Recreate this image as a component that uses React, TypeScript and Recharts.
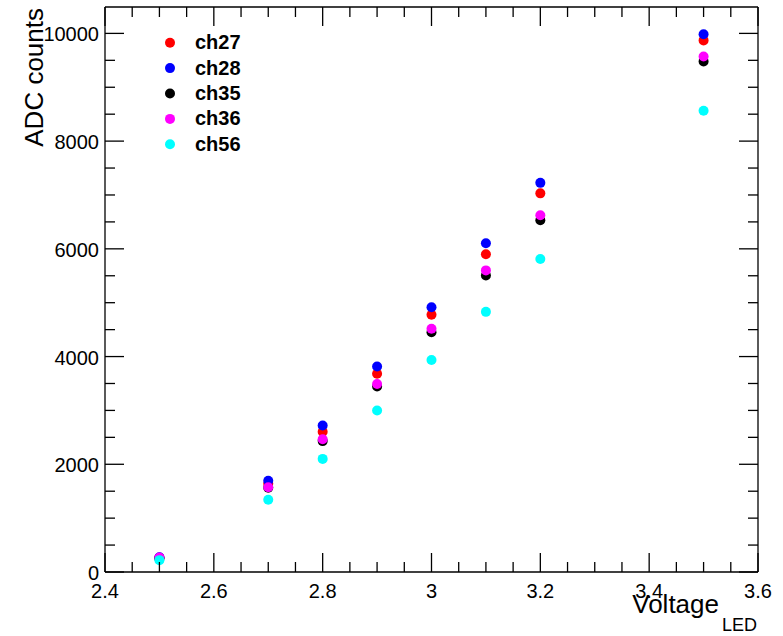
import { ScatterChart, Scatter, XAxis, YAxis, Legend } from 'recharts';

const FONT = '"Liberation Sans", Arial, Helvetica, sans-serif';

// LED voltage settings
const voltages = [2.5, 2.7, 2.8, 2.9, 3.0, 3.1, 3.2, 3.5];

// ADC counts per channel
const ch27 = [265, 1640, 2605, 3680, 4775, 5900, 7030, 9870];
const ch28 = [275, 1695, 2720, 3815, 4915, 6105, 7225, 9985];
const ch35 = [250, 1565, 2430, 3445, 4450, 5505, 6530, 9480];
const ch36 = [270, 1575, 2465, 3490, 4515, 5600, 6625, 9570];
const ch56 = [220, 1340, 2100, 3000, 3935, 4830, 5810, 8565];

const channelNames = ['ch27', 'ch28', 'ch35', 'ch36', 'ch56'];
const channelColors = ['#ff0000', '#0000ff', '#000000', '#ff00ff', '#00ffff'];
const channelValues = [ch27, ch28, ch35, ch36, ch56];

const xTicks = [
  2.4, 2.45, 2.5, 2.55, 2.6, 2.65, 2.7, 2.75, 2.8, 2.85, 2.9, 2.95, 3.0,
  3.05, 3.1, 3.15, 3.2, 3.25, 3.3, 3.35, 3.4, 3.45, 3.5, 3.55, 3.6,
];
const yTicks = [
  0, 500, 1000, 1500, 2000, 2500, 3000, 3500, 4000, 4500, 5000, 5500, 6000,
  6500, 7000, 7500, 8000, 8500, 9000, 9500, 10000,
];

const series = channelNames.map((name, i) => ({
  name,
  color: channelColors[i],
  data: voltages.map((v, j) => ({ x: v, y: channelValues[i][j] })),
}));

function XTick({ x, y, payload, side }: any) {
  const major = Math.round(payload.value * 100) % 20 === 0;
  const len = major ? 19 : 10;
  const dir = side === 'bottom' ? -1 : 1;
  const label = String(Math.round(payload.value * 10) / 10);
  return (
    <g>
      <line x1={x} x2={x} y1={y} y2={y + dir * len} stroke="#000" strokeWidth={1.3} />
      {side === 'bottom' && major && (
        <text x={x} y={y + 26} textAnchor="middle" fontSize={20} fontFamily={FONT} fill="#000">
          {label}
        </text>
      )}
    </g>
  );
}

function YTick({ x, y, payload, side }: any) {
  const major = payload.value % 2000 === 0;
  const len = major ? 19 : 10;
  const dir = side === 'left' ? 1 : -1;
  return (
    <g>
      <line x1={x} x2={x + dir * len} y1={y} y2={y} stroke="#000" strokeWidth={1.3} />
      {side === 'left' && major && (
        <text x={x - 6} y={y + 8} textAnchor="end" fontSize={20} fontFamily={FONT} fill="#000">
          {payload.value}
        </text>
      )}
    </g>
  );
}

function XTitle() {
  return (
    <text x={757} y={613} textAnchor="end" fontSize={26} fontFamily={FONT} fill="#000">
      Voltage
      <tspan dx={3} dy={18} fontSize={18}>
        LED
      </tspan>
    </text>
  );
}

function YTitle() {
  return (
    <text
      transform="translate(43,8) rotate(-90)"
      textAnchor="end"
      fontSize={26}
      fontFamily={FONT}
      fill="#000"
    >
      ADC counts
    </text>
  );
}

function LegendBox() {
  return (
    <svg width={110} height={130}>
      {series.map((s, i) => {
        const cy = 12.7 + i * 25.4;
        return (
          <g key={s.name}>
            <circle cx={5} cy={cy} r={5} fill={s.color} />
            <text x={30} y={cy + 6.5} fontSize={20} fontWeight="bold" fontFamily={FONT} fill="#000">
              {s.name}
            </text>
          </g>
        );
      })}
    </svg>
  );
}

const Dot = (color: string) => (props: any) =>
  <circle cx={props.cx} cy={props.cy} r={5} fill={color} />;

export default function App() {
  return (
    <div style={{ position: 'absolute', left: 0, top: 0, width: 783, height: 636, background: '#fff' }}>
      <ScatterChart width={783} height={636} margin={{ top: 6, right: 24, bottom: 34, left: 45 }}>
        <XAxis
          xAxisId="b"
          type="number"
          dataKey="x"
          domain={[2.4, 3.6]}
          ticks={xTicks}
          interval={0}
          tickSize={0}
          tickMargin={0}
          tick={<XTick side="bottom" />}
          axisLine={{ stroke: '#000', strokeWidth: 1.3 }}
          height={30}
          label={<XTitle />}
        />
        <XAxis
          xAxisId="t"
          orientation="top"
          type="number"
          dataKey="x"
          domain={[2.4, 3.6]}
          ticks={xTicks}
          interval={0}
          tickSize={0}
          tickMargin={0}
          tick={<XTick side="top" />}
          axisLine={{ stroke: '#000', strokeWidth: 1.3 }}
          height={1}
        />
        <YAxis
          yAxisId="l"
          type="number"
          dataKey="y"
          domain={[0, 10490]}
          ticks={yTicks}
          interval={0}
          tickSize={0}
          tickMargin={0}
          tick={<YTick side="left" />}
          axisLine={{ stroke: '#000', strokeWidth: 1.3 }}
          width={60}
          label={<YTitle />}
        />
        <YAxis
          yAxisId="r"
          orientation="right"
          type="number"
          dataKey="y"
          domain={[0, 10490]}
          ticks={yTicks}
          interval={0}
          tickSize={0}
          tickMargin={0}
          tick={<YTick side="right" />}
          axisLine={{ stroke: '#000', strokeWidth: 1.3 }}
          width={1}
        />
        <Legend
          layout="vertical"
          align="center"
          verticalAlign="middle"
          content={<LegendBox />}
          wrapperStyle={{ left: 165, top: 30, width: 110, height: 130 }}
        />
        {series.map((s) => (
          <Scatter
            key={s.name}
            name={s.name}
            data={s.data}
            xAxisId="b"
            yAxisId="l"
            fill={s.color}
            shape={Dot(s.color)}
            isAnimationActive={false}
          />
        ))}
        <Scatter
          name="frame"
          data={series[0].data}
          xAxisId="t"
          yAxisId="r"
          legendType="none"
          shape={() => <g />}
          isAnimationActive={false}
        />
      </ScatterChart>
    </div>
  );
}
